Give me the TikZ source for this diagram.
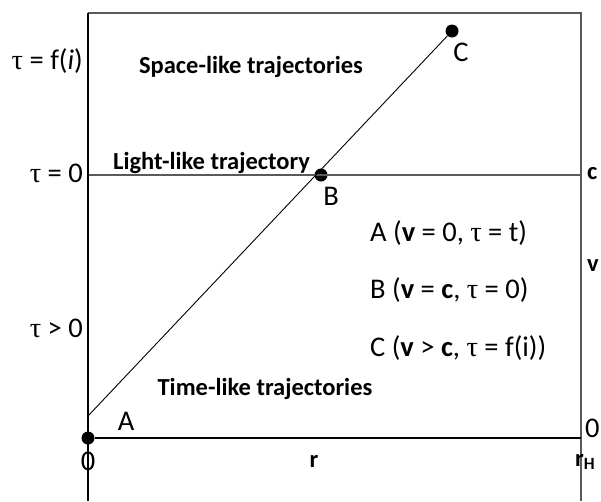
\documentclass[tikz,border=0pt]{standalone}
\usepackage{fontspec}
\setmainfont{Carlito}
\newfontfamily\greekfont{Liberation Serif}
\newcommand{\tu}{{\greekfont\char"03C4}}
\definecolor{cFrame}{HTML}{5A5A5A}

\begin{document}
\begin{tikzpicture}[
  x=1pt, y=-1pt,
  lbl/.style={font=\fontsize{28.5}{32}\selectfont, inner sep=0pt},
  blbl/.style={font=\fontsize{24.5}{28}\selectfont\bfseries, inner sep=0pt},
  frameline/.style={draw=cFrame, line width=1.6pt},
  axisline/.style={draw=black, line width=1.2pt},
  dot/.style={circle, fill=black, inner sep=0pt, minimum size=13pt}
]
\useasboundingbox (0,0) rectangle (601,501);
% corners of the chart
\coordinate (TL) at (88,13);
\coordinate (TR) at (581,13);
\coordinate (BL) at (88,501);
\coordinate (BR) at (581,501);
\coordinate (L0) at (88,175);
\coordinate (R0) at (581,175);
\coordinate (RB) at (581,438);
\coordinate (S) at (88,416);

% points
\node[dot] (A) at (88,438) {};
\node[dot] (B) at (321,175) {};
\node[dot] (C) at (452,31) {};

% frame
\draw[frameline] (TL) -- (TR) -- (BR);
\draw[frameline] (L0) -- (R0);
\draw[axisline] (TL) -- (BL);
\draw[axisline] (A) -- (RB);
\draw[line width=0.9pt] (S) -- (C);

% left labels
\node[lbl, anchor=east] (tfi) at (83,61) {\tu{} = f(\textit{i})};
\node[lbl, anchor=east] (tzero) at (83,173) {\tu{} = 0};
\node[lbl, anchor=east] (tpos) at (83,328) {\tu{} > 0};

% region labels
\node[blbl] (space) at (251,67) {Space-like trajectories};
\node[blbl, anchor=base west] (light) at (113,169) {Light-like trajectory};
\node[blbl] (time) at (265,389) {Time-like trajectories};

% point labels
\node[lbl] (Alab) at (126,421) {A};
\node[lbl] (Blab) at (331,196) {B};
\node[lbl] (Clab) at (461,52) {C};
\node[lbl] (zero) at (88,461) {0};

% legend
\node[lbl, anchor=west] (legA) at (370,233) {A (\textbf{v} = 0, \tu{} = t)};
\node[lbl, anchor=west] (legB) at (370,290) {B (\textbf{v} = \textbf{c}, \tu{} = 0)};
\node[lbl, anchor=west] (legC) at (370,348) {C (\textbf{v} > \textbf{c}, \tu{} = f(i))};

% axis labels
\node[blbl] (r) at (314,461) {r};
\node[blbl, anchor=west] (rH) at (575,462) {r\textsubscript{H}};
\node[blbl, anchor=west] (c) at (587,174) {c};
\node[blbl, anchor=west] (v) at (587,266) {v};
\node[lbl, anchor=west] (rzero) at (585,428) {0};
\end{tikzpicture}
\end{document}
